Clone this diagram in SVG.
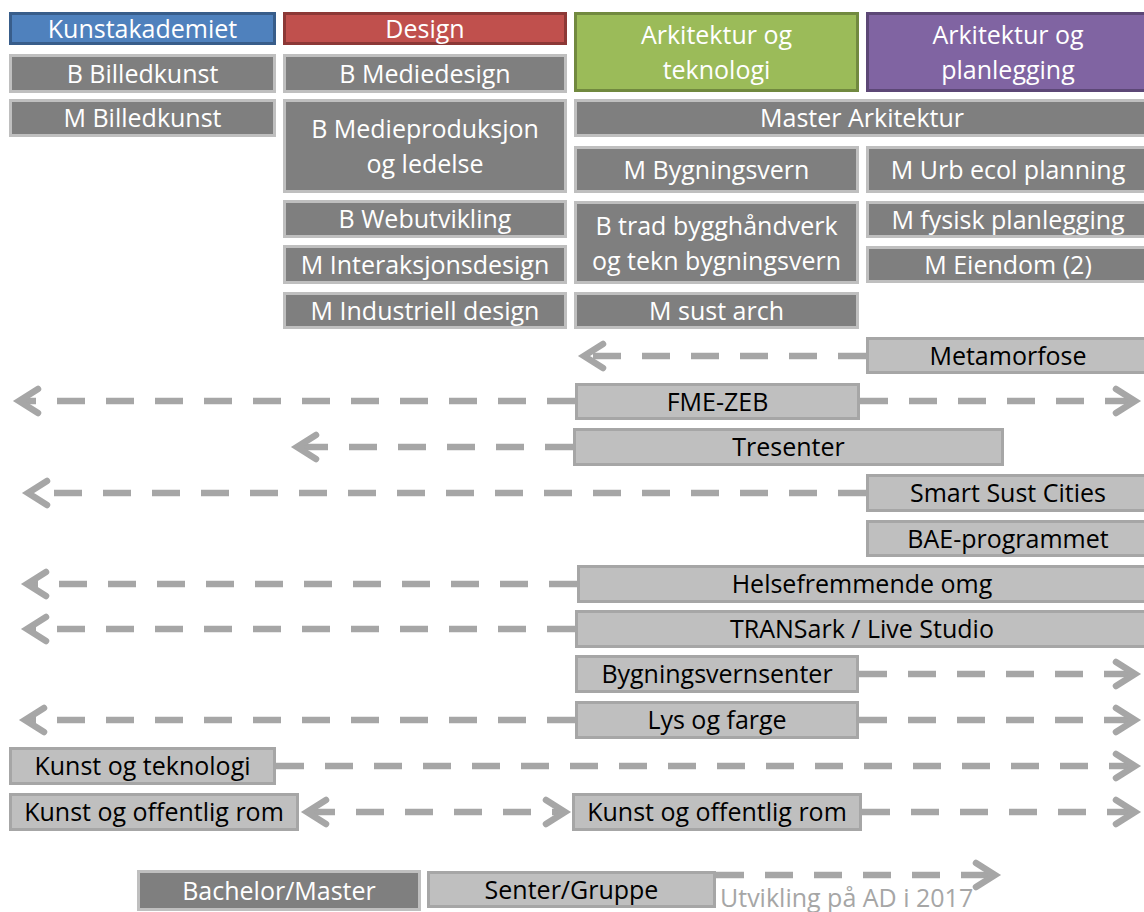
<svg xmlns="http://www.w3.org/2000/svg" width="1144" height="912" viewBox="0 0 1144 912">
<style>
text{font-family:"Open Sans","Liberation Sans",sans-serif;font-size:25px;text-anchor:middle}
.hd text,.dk text{fill:#ffffff}
.lt text{fill:#000000}
.dk rect{fill:#7f7f7f;stroke:#bfbfbf;stroke-width:3}
.lt rect{fill:#bfbfbf;stroke:#a6a6a6;stroke-width:3}
.blue rect{fill:#4f81bd;stroke:#385d8a;stroke-width:3}
.red rect{fill:#c0504d;stroke:#8c3836;stroke-width:3}
.green rect{fill:#9bbb59;stroke:#71893f;stroke-width:3}
.purple rect{fill:#8064a2;stroke:#5c4776;stroke-width:3}
.ln{fill:none;stroke:#a6a6a6;stroke-width:6.5;stroke-dasharray:28 21}
.hd2{fill:none;stroke:#a6a6a6;stroke-width:6.5;stroke-linecap:round;stroke-linejoin:miter}
.note{fill:#a6a6a6;text-anchor:start}
</style>
<rect width="1144" height="912" fill="#ffffff"/>
<g id="connectors">
<path class="ln" d="M866 356H584"/><polyline class="hd2" points="603,344 584,356 603,368"/>
<path class="ln" d="M575 401H19"/><polyline class="hd2" points="38,389 19,401 38,413"/>
<path class="ln" d="M860 401H1135"/><polyline class="hd2" points="1116,389 1135,401 1116,413"/>
<path class="ln" d="M573 447H297"/><polyline class="hd2" points="316,435 297,447 316,459"/>
<path class="ln" d="M866 493H28"/><polyline class="hd2" points="47,481 28,493 47,505"/>
<path class="ln" d="M577 584H27"/><polyline class="hd2" points="46,572 27,584 46,596"/>
<path class="ln" d="M575 629H27"/><polyline class="hd2" points="46,617 27,629 46,641"/>
<path class="ln" d="M859 674H1135"/><polyline class="hd2" points="1116,662 1135,674 1116,686"/>
<path class="ln" d="M575 720H25"/><polyline class="hd2" points="44,708 25,720 44,732"/>
<path class="ln" d="M859 720H1135"/><polyline class="hd2" points="1116,708 1135,720 1116,732"/>
<path class="ln" d="M276 766H1135"/><polyline class="hd2" points="1116,754 1135,766 1116,778"/>
<path class="ln" d="M307 812H565"/><polyline class="hd2" points="326,800 307,812 326,824"/><polyline class="hd2" points="546,800 565,812 546,824"/>
<path class="ln" d="M862 812H1135"/><polyline class="hd2" points="1116,800 1135,812 1116,824"/>
<path class="ln" d="M716 875H995"/><polyline class="hd2" points="976,863 995,875 976,887"/>
</g>
<g id="h-kunstakademiet" class="hd blue"><rect x="10.5" y="13.5" width="264" height="30"/><text x="142.5" y="37.5">Kunstakademiet</text></g>
<g id="h-design" class="hd red"><rect x="284.5" y="13.5" width="281" height="30"/><text x="425" y="37.5">Design</text></g>
<g id="h-ark-tek" class="hd green"><rect x="575.5" y="13.5" width="282" height="77"/><text x="716.5" y="44">Arkitektur og</text><text x="716.5" y="79">teknologi</text></g>
<g id="h-ark-plan" class="hd purple"><rect x="867.5" y="13.5" width="285" height="77"/><text x="1008" y="44">Arkitektur og</text><text x="1008" y="79">planlegging</text></g>
<g id="b-billedkunst" class="dk"><rect x="10.5" y="55.5" width="264" height="36"/><text x="142.5" y="82.5">B Billedkunst</text></g>
<g id="m-billedkunst" class="dk"><rect x="10.5" y="100.5" width="264" height="35"/><text x="142.5" y="127">M Billedkunst</text></g>
<g id="b-mediedesign" class="dk"><rect x="284.5" y="55.5" width="281" height="36"/><text x="425" y="82.5">B Mediedesign</text></g>
<g id="b-medieproduksjon" class="dk"><rect x="284.5" y="100.5" width="281" height="91"/><text x="425" y="138">B Medieproduksjon</text><text x="425" y="173">og ledelse</text></g>
<g id="master-arkitektur" class="dk"><rect x="575.5" y="100.5" width="577" height="35"/><text x="862" y="127">Master Arkitektur</text></g>
<g id="m-bygningsvern" class="dk"><rect x="575.5" y="147.5" width="282" height="44"/><text x="716.5" y="178.5">M Bygningsvern</text></g>
<g id="m-urb-ecol" class="dk"><rect x="867.5" y="147.5" width="285" height="44"/><text x="1008" y="178.5">M Urb ecol planning</text></g>
<g id="b-webutvikling" class="dk"><rect x="284.5" y="201.5" width="281" height="35"/><text x="425" y="228">B Webutvikling</text></g>
<g id="b-trad" class="dk"><rect x="575.5" y="202.5" width="282" height="80"/><text x="716.5" y="234.5">B trad bygghåndverk</text><text x="716.5" y="269.5">og tekn bygningsvern</text></g>
<g id="m-fysisk" class="dk"><rect x="867.5" y="202.5" width="285" height="34"/><text x="1008" y="228.5">M fysisk planlegging</text></g>
<g id="m-interaksjon" class="dk"><rect x="284.5" y="246.5" width="281" height="36"/><text x="425" y="273.5">M Interaksjonsdesign</text></g>
<g id="m-eiendom" class="dk"><rect x="867.5" y="247.5" width="285" height="34"/><text x="1008" y="273.5">M Eiendom (2)</text></g>
<g id="m-industriell" class="dk"><rect x="284.5" y="293.5" width="281" height="34"/><text x="425" y="319.5">M Industriell design</text></g>
<g id="m-sust-arch" class="dk"><rect x="575.5" y="293.5" width="282" height="34"/><text x="716.5" y="319.5">M sust arch</text></g>
<g id="metamorfose" class="lt"><rect x="867.5" y="338.5" width="285" height="34"/><text x="1008" y="364.5">Metamorfose</text></g>
<g id="fme-zeb" class="lt"><rect x="576.5" y="384.5" width="282" height="34"/><text x="717.5" y="410.5">FME-ZEB</text></g>
<g id="tresenter" class="lt"><rect x="574.5" y="429.5" width="428" height="35"/><text x="788.5" y="456">Tresenter</text></g>
<g id="smart-sust" class="lt"><rect x="867.5" y="475.5" width="285" height="35"/><text x="1008" y="502">Smart Sust Cities</text></g>
<g id="bae" class="lt"><rect x="867.5" y="521.5" width="285" height="34"/><text x="1008" y="547.5">BAE-programmet</text></g>
<g id="helsefremmende" class="lt"><rect x="578.5" y="566.5" width="574" height="35"/><text x="862" y="593">Helsefremmende omg</text></g>
<g id="transark" class="lt"><rect x="576.5" y="611.5" width="576" height="35"/><text x="862" y="638">TRANSark / Live Studio</text></g>
<g id="bygningsvernsenter" class="lt"><rect x="576.5" y="656.5" width="281" height="35"/><text x="717" y="683">Bygningsvernsenter</text></g>
<g id="lys-farge" class="lt"><rect x="576.5" y="702.5" width="281" height="35"/><text x="717" y="729">Lys og farge</text></g>
<g id="kunst-tek" class="lt"><rect x="10.5" y="748.5" width="264" height="35"/><text x="142.5" y="775">Kunst og teknologi</text></g>
<g id="kunst-off-l" class="lt"><rect x="10.5" y="794.5" width="287" height="35"/><text x="154" y="821">Kunst og offentlig rom</text></g>
<g id="kunst-off-r" class="lt"><rect x="573.5" y="794.5" width="287" height="35"/><text x="717" y="821">Kunst og offentlig rom</text></g>
<g id="legend-bm" class="dk"><rect x="138.5" y="871.5" width="281" height="38"/><text x="279" y="899.5">Bachelor/Master</text></g>
<g id="legend-sg" class="lt"><rect x="428.5" y="872.5" width="286" height="34"/><text x="571.5" y="898.5">Senter/Gruppe</text></g>
<g id="legend-note"><text class="note" x="720" y="907">Utvikling på AD i 2017</text></g>
</svg>
